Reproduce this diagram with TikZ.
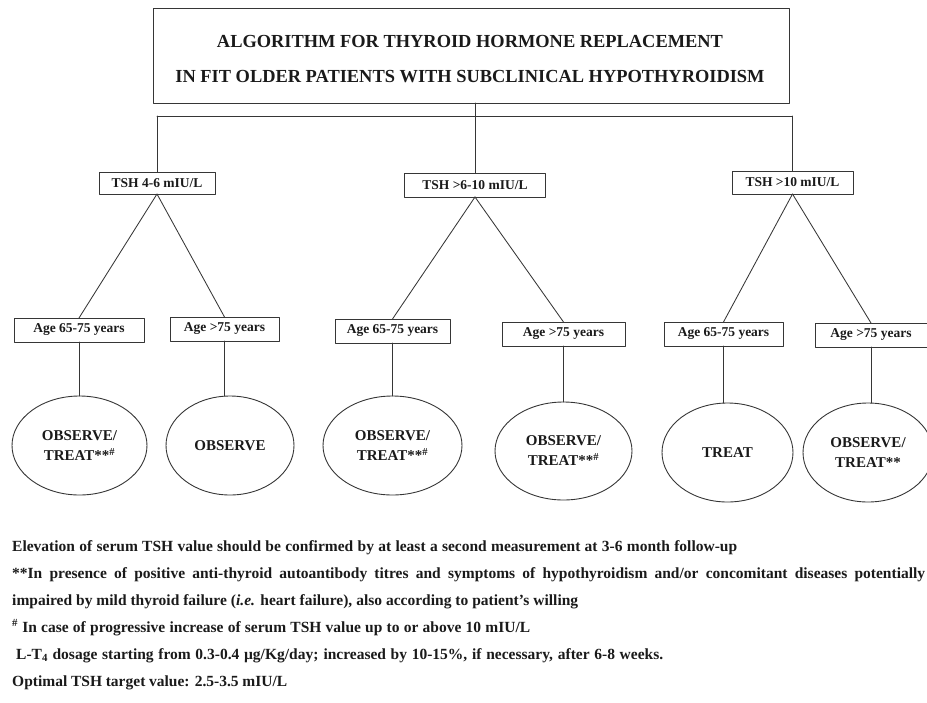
\documentclass[tikz,border=0pt]{standalone}
\usepackage{fontspec}
\setmainfont{Liberation Serif}
\usepackage{xcolor}
\usetikzlibrary{shapes.geometric}
\definecolor{linec}{HTML}{363636}
\definecolor{inkc}{HTML}{1A1A1A}
\tikzset{
  headbox/.style={draw=linec, line width=1pt, inner sep=0pt, outer sep=0pt},
  headtext/.style={inner sep=0pt, align=center, text=inkc, font=\bfseries\fontsize{18.4}{35}\selectfont},
  tshbox/.style={draw=linec, line width=1pt, inner sep=0pt, outer sep=0pt, text=inkc, font=\bfseries\fontsize{13.5}{15}\selectfont},
  agebox/.style={draw=linec, line width=1pt, inner sep=0pt, outer sep=0pt, minimum height=24pt, text=inkc, font=\bfseries\fontsize{13.5}{15}\selectfont},
  outc/.style={ellipse, draw=linec, line width=0.9pt, inner sep=0pt, outer sep=0pt, align=center, text=inkc, font=\bfseries\fontsize{15}{20}\selectfont},
  wire/.style={draw=linec, line width=0.85pt},
  note/.style={anchor=base west, inner sep=0pt, text=inkc, font=\bfseries\fontsize{15.5}{17}\selectfont},
  every picture/.style={line cap=round, line join=round}
}

\begin{document}
\begin{tikzpicture}[x=1pt, y=-1pt]
  \useasboundingbox (0,0) rectangle (927,702);

  \node[headbox, minimum width=636pt, minimum height=95pt] (title) at (471,55.5) {};
  \node[headtext] (titletxt) at (470,59.5)
    {ALGORITHM FOR THYROID HORMONE REPLACEMENT\\IN FIT OLDER PATIENTS WITH SUBCLINICAL HYPOTHYROIDISM};

  \node[tshbox, minimum width=116pt, minimum height=22pt] (tshA) at (157,183) {TSH 4-6 mIU/L};
  \node[tshbox, minimum width=141pt, minimum height=24pt] (tshB) at (475,185) {TSH >6-10 mIU/L};
  \node[tshbox, minimum width=121pt, minimum height=23pt] (tshC) at (792.5,182.5) {TSH >10 mIU/L};
  \coordinate (bus) at (475,116);

  \node[agebox, minimum width=130pt] (ageA1) at (79,330) {Age 65-75 years};
  \node[agebox, minimum width=109pt] (ageA2) at (224.5,329) {Age >75 years};
  \node[agebox, minimum width=115pt] (ageB1) at (392.5,331) {Age 65-75 years};
  \node[agebox, minimum width=123pt] (ageB2) at (563.5,334) {Age >75 years};
  \node[agebox, minimum width=119pt] (ageC1) at (723.5,334) {Age 65-75 years};
  \node[agebox, minimum width=112pt] (ageC2) at (871,335) {Age >75 years};

  \node[outc, minimum width=135pt, minimum height=99pt] (outA1) at (79.5,445.5) {OBSERVE/\\TREAT**\textsuperscript{\#}};
  \node[outc, minimum width=128pt, minimum height=99pt] (outA2) at (230,445.5) {OBSERVE};
  \node[outc, minimum width=139pt, minimum height=99pt] (outB1) at (392.5,445.5) {OBSERVE/\\TREAT**\textsuperscript{\#}};
  \node[outc, minimum width=137pt, minimum height=98pt] (outB2) at (563.5,451) {OBSERVE/\\TREAT**\textsuperscript{\#}};
  \node[outc, minimum width=131pt, minimum height=99pt] (outC1) at (727.5,452.5) {TREAT};
  \node[outc, minimum width=130pt, minimum height=99pt] (outC2) at (868,452.5) {OBSERVE/\\TREAT**};

  \draw[wire] (title.south -| bus) -- (bus);
  \draw[wire] (tshA.north |- bus) -- (tshC.north |- bus);
  \draw[wire] (tshA.north |- bus) -- (tshA.north);
  \draw[wire] (bus) -- (tshB.north);
  \draw[wire] (tshC.north |- bus) -- (tshC.north);

  \draw[wire] (tshA.south) -- (ageA1.north);
  \draw[wire] (tshA.south) -- (ageA2.north);
  \draw[wire] (tshB.south) -- (ageB1.north);
  \draw[wire] (tshB.south) -- (ageB2.north);
  \draw[wire] (tshC.south) -- (ageC1.north);
  \draw[wire] (tshC.south) -- (ageC2.north);

  \foreach \g in {A1,A2,B1,B2,C1,C2}
    \draw[wire] (age\g.south) -- (age\g.south |- out\g.north);

  \node[note] (n1) at (12,551) {\makebox[725pt][s]{Elevation of serum TSH value should be confirmed by at least a second measurement at 3-6 month follow-up}};
  \node[note] (n2) at (12,578) {\makebox[913pt][s]{**In presence of positive anti-thyroid autoantibody titres and symptoms of hypothyroidism and/or concomitant diseases potentially}};
  \node[note] (n3) at (12,605) {\makebox[566pt][s]{impaired by mild thyroid failure (\textit{i.e.} heart failure), also according to patient’s willing}};
  \node[note] (n4) at (12,632) {\makebox[518pt][s]{\textsuperscript{\#} In case of progressive increase of serum TSH value up to or above 10 mIU/L}};
  \node[note] (n5) at (16,659) {\makebox[647pt][s]{L-T\textsubscript{4} dosage starting from 0.3-0.4 µg/Kg/day; increased by 10-15\%, if necessary, after 6-8 weeks.}};
  \node[note] (n6) at (12,686) {\makebox[275pt][s]{Optimal TSH target value: 2.5-3.5 mIU/L}};
\end{tikzpicture}
\end{document}
